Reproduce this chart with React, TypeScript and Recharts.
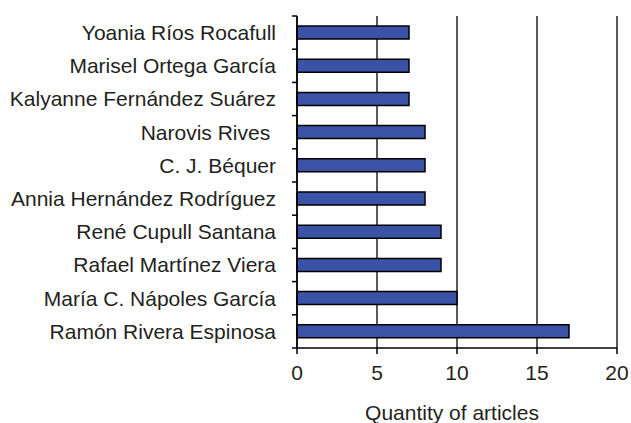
import React from "react";
import { BarChart, Bar, XAxis, YAxis, CartesianGrid, Label } from "recharts";

const authors = [
  "Yoania Ríos Rocafull",
  "Marisel Ortega García",
  "Kalyanne Fernández Suárez",
  "Narovis Rives ",
  "C. J. Béquer",
  "Annia Hernández Rodríguez",
  "René Cupull Santana",
  "Rafael Martínez Viera",
  "María C. Nápoles García",
  "Ramón Rivera Espinosa",
];
const articles = [7, 7, 7, 8, 8, 8, 9, 9, 10, 17];
const xTicks = [0, 5, 10, 15, 20];

const data = authors.map((name, i) => ({ name, value: articles[i] }));

const FONT = "'Liberation Sans', Arial, sans-serif";
const TEXT = "#231f20";

const W = 631;
const H = 423;
const M_TOP = 16;
const X_AXIS_H = 75;
const Y_AXIS_W = 297;
const LABEL_GAP = 21;
const TICK_LEN = 5;
const BAND = (H - M_TOP - X_AXIS_H) / authors.length;

const CategoryTick = (props: any) => {
  const { x, y, payload, index, visibleTicksCount } = props;
  const ax = x + LABEL_GAP;
  const isLast = index === visibleTicksCount - 1;
  return (
    <g>
      <line x1={ax - TICK_LEN} x2={ax} y1={y - BAND / 2} y2={y - BAND / 2} stroke="#000" strokeWidth={1.5} />
      {isLast && (
        <line x1={ax - TICK_LEN} x2={ax} y1={y + BAND / 2} y2={y + BAND / 2} stroke="#000" strokeWidth={1.5} />
      )}
      <text
        x={x}
        y={y}
        dy="0.355em"
        textAnchor="end"
        fill={TEXT}
        fontSize={21}
        fontFamily={FONT}
        style={{ whiteSpace: "pre" }}
      >
        {payload.value}
      </text>
    </g>
  );
};

export default function App() {
  return (
    <div style={{ position: "absolute", left: 0, top: 0 }}>
      <BarChart
        width={W}
        height={H}
        data={data}
        layout="vertical"
        margin={{ top: M_TOP, right: 14, bottom: 0, left: 0 }}
        barCategoryGap={0}
      >
        <CartesianGrid horizontal={false} vertical={true} stroke="#000" strokeWidth={1.3} />
        <YAxis
          type="category"
          dataKey="name"
          width={Y_AXIS_W}
          axisLine={{ stroke: "#000", strokeWidth: 1.5 }}
          tickLine={false}
          tickSize={0}
          tickMargin={LABEL_GAP}
          interval={0}
          tick={CategoryTick}
        />
        <XAxis
          type="number"
          domain={[0, 20]}
          ticks={xTicks}
          height={X_AXIS_H}
          axisLine={{ stroke: "#000", strokeWidth: 1.5 }}
          tickLine={{ stroke: "#000", strokeWidth: 1.5 }}
          tickSize={6}
          tickMargin={11}
          tick={{ fill: TEXT, fontSize: 21, fontFamily: FONT }}
        >
          <Label
            value="Quantity of articles"
            position="insideBottom"
            offset={3}
            dx={-5}
            style={{ fill: TEXT, fontSize: 21, fontFamily: FONT }}
          />
        </XAxis>
        <Bar
          dataKey="value"
          fill="#3a53a6"
          stroke="#000"
          strokeWidth={1.5}
          barSize={13}
          isAnimationActive={false}
        />
      </BarChart>
    </div>
  );
}
